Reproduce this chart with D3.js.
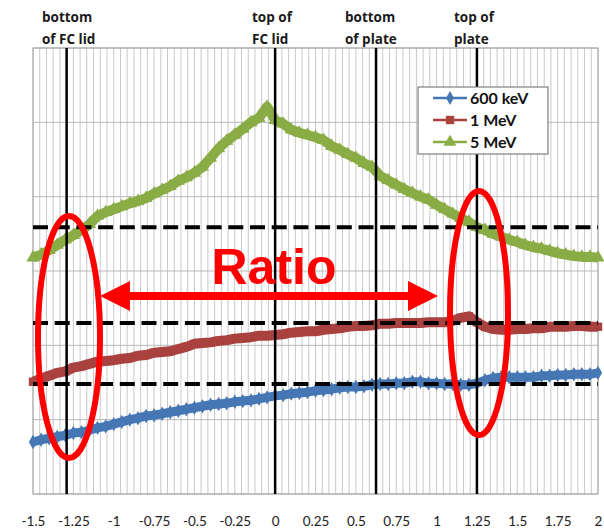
<!DOCTYPE html>
<html>
<head>
<meta charset="utf-8">
<script src="https://cdn.jsdelivr.net/npm/d3@7"></script>
<style>
  html, body { margin: 0; padding: 0; background: #fff; }
  svg { display: block; }
</style>
</head>
<body>
<svg id="chart" width="604" height="530"></svg>
<script>
// Position along the stack (x) and detector response for three proton energies
const xValues = [-1.50, -1.45, -1.40, -1.35, -1.30, -1.25, -1.20, -1.15, -1.10, -1.05,
                 -1.00, -0.95, -0.90, -0.85, -0.80, -0.75, -0.70, -0.65, -0.60, -0.55,
                 -0.50, -0.45, -0.40, -0.35, -0.30, -0.25, -0.20, -0.15, -0.10, -0.05,
                 0.00, 0.05, 0.10, 0.15, 0.20, 0.25, 0.30, 0.35, 0.40, 0.45,
                 0.50, 0.55, 0.60, 0.65, 0.70, 0.75, 0.80, 0.85, 0.90, 0.95,
                 1.00, 1.05, 1.10, 1.15, 1.20, 1.25, 1.30, 1.35, 1.40, 1.45,
                 1.50, 1.55, 1.60, 1.65, 1.70, 1.75, 1.80, 1.85, 1.90, 1.95, 2.00];
const series600keV = [0.70, 0.73, 0.75, 0.77, 0.79, 0.82, 0.83, 0.86, 0.89, 0.91,
                      0.94, 0.97, 1.00, 1.02, 1.05, 1.06, 1.08, 1.10, 1.12, 1.14,
                      1.16, 1.18, 1.20, 1.21, 1.22, 1.24, 1.25, 1.26, 1.28, 1.30,
                      1.32, 1.33, 1.35, 1.36, 1.37, 1.39, 1.40, 1.41, 1.43, 1.44,
                      1.44, 1.45, 1.47, 1.48, 1.48, 1.49, 1.49, 1.51, 1.51, 1.49,
                      1.49, 1.48, 1.48, 1.47, 1.47, 1.49, 1.53, 1.56, 1.57, 1.57,
                      1.57, 1.57, 1.57, 1.59, 1.59, 1.60, 1.60, 1.61, 1.61, 1.61, 1.63];
const series1MeV = [1.51, 1.55, 1.59, 1.63, 1.65, 1.70, 1.72, 1.75, 1.78, 1.79,
                    1.80, 1.82, 1.83, 1.86, 1.87, 1.90, 1.91, 1.92, 1.95, 1.98,
                    2.02, 2.03, 2.04, 2.06, 2.07, 2.09, 2.10, 2.11, 2.13, 2.13,
                    2.14, 2.15, 2.17, 2.18, 2.19, 2.19, 2.21, 2.22, 2.23, 2.25,
                    2.26, 2.26, 2.27, 2.29, 2.29, 2.30, 2.30, 2.30, 2.30, 2.31,
                    2.31, 2.31, 2.33, 2.37, 2.39, 2.31, 2.25, 2.22, 2.21, 2.21,
                    2.22, 2.22, 2.23, 2.23, 2.25, 2.25, 2.25, 2.26, 2.26, 2.25, 2.25];
const series5MeV = [3.18, 3.22, 3.28, 3.35, 3.42, 3.48, 3.55, 3.63, 3.74, 3.79,
                    3.83, 3.87, 3.91, 3.94, 3.98, 4.04, 4.09, 4.14, 4.21, 4.26,
                    4.32, 4.40, 4.52, 4.65, 4.75, 4.83, 4.91, 5.00, 5.06, 5.21,
                    5.03, 4.98, 4.90, 4.86, 4.83, 4.80, 4.76, 4.68, 4.63, 4.57,
                    4.52, 4.45, 4.40, 4.28, 4.22, 4.16, 4.10, 4.05, 4.00, 3.96,
                    3.89, 3.83, 3.77, 3.71, 3.66, 3.59, 3.55, 3.50, 3.46, 3.42,
                    3.39, 3.35, 3.32, 3.30, 3.27, 3.24, 3.22, 3.20, 3.19, 3.19, 3.18];
const seriesNames = ["600 keV", "1 MeV", "5 MeV"];
const tickLabels = [-1.5, -1.25, -1, -0.75, -0.5, -0.25, 0, 0.25, 0.5, 0.75, 1, 1.25, 1.5, 1.75, 2];
// Geometry markers (vertical lines) and their captions
const markerPositions = [-31 / 24, 0, 0.625, 1.25];
const markerCaptions = [["bottom", "of FC lid"], ["top of", "FC lid"], ["bottom", "of plate"], ["top of", "plate"]];
// Reference levels (dashed)
const refLevels = [3.59, 2.30, 1.48];

const svg = d3.select("#chart");
const plotL = 33, plotR = 598, plotT = 48, plotB = 494;

const x = d3.scaleLinear().domain([-1.5, 2]).range([plotL, plotR]);
const y = d3.scaleLinear().domain([0, 6]).range([plotB, plotT]);

const colors = ["#4677b5", "#a9423f", "#8aac45"];

// Fine vertical grid
const gridG = svg.append("g");
gridG.selectAll("line.vg")
  .data(d3.range(0, 85).map(i => -1.5 + i / 24))
  .enter().append("line")
  .attr("x1", d => x(d)).attr("x2", d => x(d))
  .attr("y1", plotT).attr("y2", plotB)
  .attr("stroke", "#c8c8c8").attr("stroke-width", 1);

// Horizontal grid
gridG.selectAll("line.hg")
  .data(d3.range(0, 7))
  .enter().append("line")
  .attr("x1", plotL).attr("x2", plotR)
  .attr("y1", d => y(d)).attr("y2", d => y(d))
  .attr("stroke", "#b8b8b8").attr("stroke-width", 1);

// Plot frame
svg.append("rect")
  .attr("x", plotL).attr("y", plotT)
  .attr("width", plotR - plotL).attr("height", plotB - plotT)
  .attr("fill", "none").attr("stroke", "#a6a6a6").attr("stroke-width", 1);

// X axis labels
const xAxis = d3.axisBottom(x)
  .tickValues(tickLabels)
  .tickSize(0)
  .tickPadding(22)
  .tickFormat(d => String(d));
const axG = svg.append("g").attr("transform", `translate(0,${plotB})`).call(xAxis);
axG.select(".domain").remove();
axG.selectAll("text")
  .attr("font-family", "Lato, 'Open Sans', sans-serif")
  .attr("font-size", 13.5)
  .attr("fill", "#222");

// Data lines with dense point markers
const line = d3.line()
  .x((d, i) => x(xValues[i]))
  .y(d => y(d));
const allSeries = [series600keV, series1MeV, series5MeV];
const widths = [9, 10, 10];
const symbols = [d3.symbolDiamond, d3.symbolSquare, d3.symbolTriangle];
const pointSizes = [60, 70, 75];
allSeries.forEach((s, k) => {
  svg.append("path")
    .datum(s)
    .attr("d", line)
    .attr("fill", "none")
    .attr("stroke", colors[k])
    .attr("stroke-width", widths[k])
    .attr("stroke-linejoin", "round")
    .attr("stroke-linecap", "butt");
  svg.append("g").selectAll("path")
    .data(s)
    .enter().append("path")
    .attr("d", d3.symbol().type(symbols[k]).size(pointSizes[k]))
    .attr("transform", (d, i) => `translate(${x(xValues[i])},${y(d)})`)
    .attr("fill", colors[k]);
});

// Dashed reference levels
svg.selectAll("line.ref")
  .data(refLevels)
  .enter().append("line")
  .attr("x1", plotL).attr("x2", plotR)
  .attr("y1", d => y(d)).attr("y2", d => y(d))
  .attr("stroke", "#000").attr("stroke-width", 4)
  .attr("stroke-dasharray", "15,6.7");

// Vertical geometry markers
svg.selectAll("line.marker")
  .data(markerPositions)
  .enter().append("line")
  .attr("x1", d => x(d)).attr("x2", d => x(d))
  .attr("y1", plotT).attr("y2", plotB)
  .attr("stroke", "#000").attr("stroke-width", 2.5);

// Captions above the plot
const capX = [42, 252, 345, 454];
markerCaptions.forEach((lines, i) => {
  const t = svg.append("text")
    .attr("x", capX[i])
    .attr("font-family", "'Open Sans', sans-serif")
    .attr("font-weight", 700)
    .attr("font-size", 13.5)
    .attr("fill", "#1a1a1a");
  lines.forEach((l, j) => {
    t.append("tspan").attr("x", capX[i]).attr("y", 21.5 + j * 22).text(l);
  });
});

// Legend
const lg = svg.append("g");
lg.append("rect")
  .attr("x", 418).attr("y", 87).attr("width", 130).attr("height", 67)
  .attr("fill", "#fff").attr("stroke", "#7f7f7f").attr("stroke-width", 1.2);
const symSizes = [55, 70, 70];
seriesNames.forEach((name, i) => {
  const cy = 98 + i * 22;
  lg.append("line")
    .attr("x1", 433).attr("x2", 467).attr("y1", cy).attr("y2", cy)
    .attr("stroke", colors[i]).attr("stroke-width", 2.5);
  lg.append("path")
    .attr("d", d3.symbol().type(symbols[i]).size(symSizes[i]))
    .attr("transform", `translate(450,${cy})`)
    .attr("fill", colors[i]);
  lg.append("text")
    .attr("x", 470).attr("y", cy + 5.5)
    .attr("font-family", "Lato, sans-serif")
    .attr("font-weight", 700)
    .attr("font-size", 16)
    .attr("fill", "#111")
    .text(name);
});

// Annotation: ellipses, double arrow and label
const red = "#ff0000";
svg.append("ellipse")
  .attr("cx", 69).attr("cy", 337).attr("rx", 31).attr("ry", 121)
  .attr("fill", "none").attr("stroke", red).attr("stroke-width", 6);
svg.append("ellipse")
  .attr("cx", 479).attr("cy", 313).attr("rx", 29).attr("ry", 122)
  .attr("fill", "none").attr("stroke", red).attr("stroke-width", 6);

const ay = 296, ax1 = 100, ax2 = 438, headL = 30, headH = 15;
svg.append("line")
  .attr("x1", ax1 + headL - 2).attr("x2", ax2 - headL + 2)
  .attr("y1", ay).attr("y2", ay)
  .attr("stroke", red).attr("stroke-width", 8);
svg.append("path")
  .attr("d", `M${ax1},${ay} L${ax1 + headL},${ay - headH} L${ax1 + headL},${ay + headH} Z`)
  .attr("fill", red);
svg.append("path")
  .attr("d", `M${ax2},${ay} L${ax2 - headL},${ay - headH} L${ax2 - headL},${ay + headH} Z`)
  .attr("fill", red);
svg.append("text")
  .attr("x", 274).attr("y", 284)
  .attr("text-anchor", "middle")
  .attr("font-family", "'Liberation Sans', Arial, sans-serif")
  .attr("font-weight", 700)
  .attr("font-size", 50)
  .attr("fill", red)
  .text("Ratio");
</script>
</body>
</html>
